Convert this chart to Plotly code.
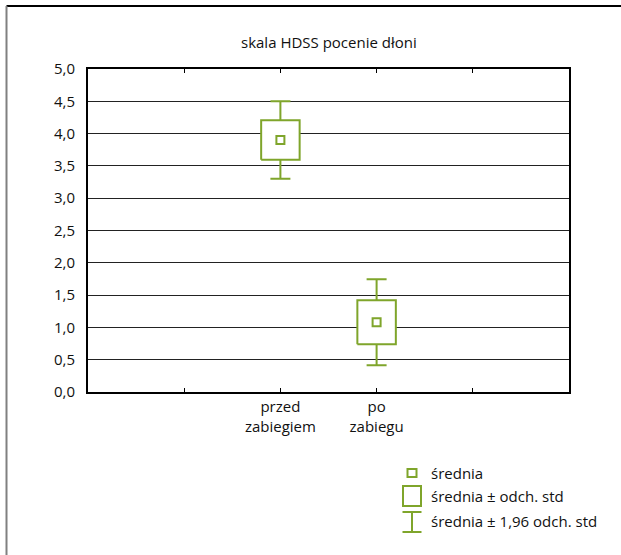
import plotly.graph_objects as go

# HDSS palm sweating score before / after treatment
categories = ["przed<br>zabiegiem", "po<br>zabiegu"]
cat_pos = [2, 3]
means = [3.90, 1.08]
stds = [0.306, 0.34]
y_ticks = [0.0, 0.5, 1.0, 1.5, 2.0, 2.5, 3.0, 3.5, 4.0, 4.5, 5.0]
title_text = "skala HDSS pocenie dłoni"
legend_labels = ["średnia", "średnia ± odch. std", "średnia ± 1,96 odch. std"]

GREEN = "#7fa52b"
FONT = "Open Sans, sans-serif"
FS = 15
W, H = 621, 555
ML, MR, MT, MB = 88, 52, 69, 163
PW, PH = W - ML - MR, H - MT - MB

fig = go.Figure()

# whiskers: mean ± 1.96 SD
fig.add_trace(go.Scatter(
    x=cat_pos, y=means, mode="markers",
    marker=dict(size=1, color="rgba(0,0,0,0)"),
    error_y=dict(type="data", array=[1.96 * s for s in stds], color=GREEN,
                 thickness=2, width=10),
    showlegend=False, hoverinfo="skip"))

# boxes: mean ± SD, white filled
half = 0.2
for x, m, s in zip(cat_pos, means, stds):
    fig.add_trace(go.Scatter(
        x=[x - half, x + half, x + half, x - half, x - half],
        y=[m - s, m - s, m + s, m + s, m - s],
        mode="lines", fill="toself", fillcolor="white",
        line=dict(color=GREEN, width=2),
        showlegend=False, hoverinfo="skip"))

# mean markers
fig.add_trace(go.Scatter(
    x=cat_pos, y=means, mode="markers",
    marker=dict(symbol="square-open", size=8, color=GREEN, line=dict(width=2, color=GREEN)),
    showlegend=False, hoverinfo="skip"))


def px_x(p):
    return (p - ML) / PW


def px_y(p):
    return (H - MB - p) / PH


shapes = []
# outer frame (left and top edges)
shapes.append(dict(type="line", xref="paper", yref="paper",
                   x0=px_x(6.5), x1=px_x(W + 5), y0=px_y(6), y1=px_y(6),
                   line=dict(color="black", width=2)))
shapes.append(dict(type="line", xref="paper", yref="paper",
                   x0=px_x(6.5), x1=px_x(6.5), y0=px_y(6), y1=px_y(H + 5),
                   line=dict(color="#808080", width=2)))

# legend symbols
lx = 412
shapes.append(dict(type="rect", xref="paper", yref="paper",
                   x0=px_x(lx - 4.5), x1=px_x(lx + 4.5), y0=px_y(469), y1=px_y(477),
                   line=dict(color=GREEN, width=2)))
shapes.append(dict(type="rect", xref="paper", yref="paper",
                   x0=px_x(lx - 9), x1=px_x(lx + 9), y0=px_y(486), y1=px_y(506),
                   line=dict(color=GREEN, width=2)))
shapes.append(dict(type="line", xref="paper", yref="paper",
                   x0=px_x(lx), x1=px_x(lx), y0=px_y(512), y1=px_y(532),
                   line=dict(color=GREEN, width=2)))
for yy in (512, 532):
    shapes.append(dict(type="line", xref="paper", yref="paper",
                       x0=px_x(lx - 9.5), x1=px_x(lx + 9.5), y0=px_y(yy), y1=px_y(yy),
                       line=dict(color=GREEN, width=2)))

annotations = []
for label, yy in zip(legend_labels, (473, 496, 521)):
    annotations.append(dict(text=label, xref="paper", yref="paper",
                            x=px_x(429), y=px_y(yy), xanchor="left", yanchor="middle",
                            showarrow=False, font=dict(size=FS, color="#111", family=FONT)))
annotations.append(dict(text=title_text, xref="paper", yref="paper",
                        x=0.5, y=px_y(42), xanchor="center", yanchor="middle",
                        showarrow=False, font=dict(size=FS, color="#111", family=FONT)))

fig.update_layout(
    width=W, height=H,
    margin=dict(l=ML, r=MR, t=MT, b=MB),
    paper_bgcolor="white", plot_bgcolor="white",
    font=dict(family=FONT, size=FS, color="#111"),
    shapes=shapes, annotations=annotations,
    showlegend=False,
)
fig.update_xaxes(
    range=[0, 5], tickvals=[0, 1, 2, 3, 4, 5],
    ticktext=["", "", categories[0], categories[1], "", ""],
    showgrid=False, zeroline=False,
    showline=True, linecolor="black", linewidth=2, mirror="ticks",
    ticks="inside", ticklen=4, tickcolor="black", tickwidth=1,
    tickfont=dict(size=FS, family=FONT, color="#111"),
)
fig.update_yaxes(
    range=[0, 5], tickvals=y_ticks,
    ticktext=[f"{v:.1f}".replace(".", ",") for v in y_ticks],
    showgrid=True, gridcolor="#222", gridwidth=1, zeroline=False,
    showline=True, linecolor="black", linewidth=2, mirror=True,
    ticks="", ticklabelstandoff=8,
    tickfont=dict(size=FS, family=FONT, color="#111"),
)

fig.write_html("out.html")
